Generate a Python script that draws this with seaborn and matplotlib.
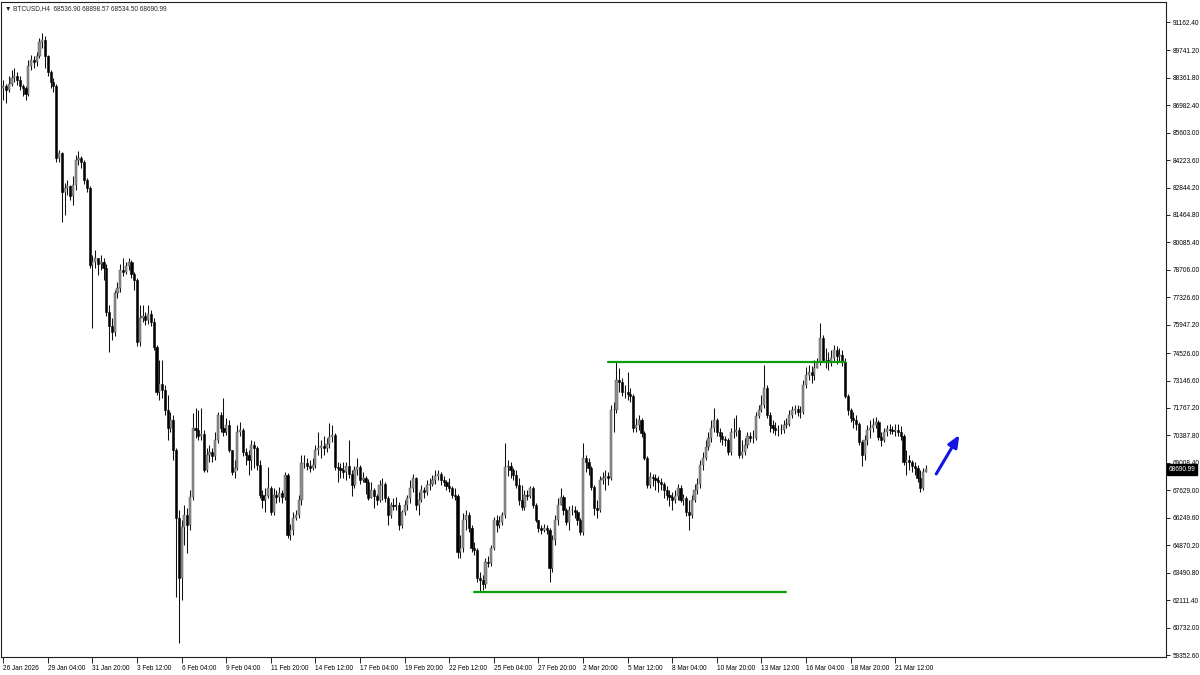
import numpy as np
import pandas as pd
import seaborn as sns
import matplotlib.pyplot as plt

# --- BTCUSD H4 candles (one value per 4h bar) ---
chart_title = "\u25bc BTCUSD,H4  68536.90 68898.57 68534.50 68690.99"
first_open = 87850.0
closes = [
    87946, 87745, 88047, 88348, 88449, 88248, 87946, 87846, 87544, 88951,
    89253, 89152, 89454, 90157, 90258, 89454, 88650, 88147, 87946, 84328,
    84580, 82620, 82821, 82921, 82419, 82972, 84228, 84328, 84127, 83223,
    82821, 78952, 79102, 79303, 79002, 79102, 78801, 76590, 75887, 75585,
    77545, 77796, 78700, 78600, 78901, 79102, 78499, 78198, 75083, 76289,
    76389, 76188, 76490, 76088, 74831, 72570, 72972, 72670, 71665, 70761,
    71163, 69655, 66239, 63224, 65787, 66390, 65887, 67294, 70761, 70660,
    70359, 70459, 68650, 69404, 69555, 69354, 70158, 71414, 70761, 70560,
    70912, 69655, 68550, 68751, 70560, 70660, 69555, 69404, 69153, 69906,
    69756, 68902, 67394, 67143, 67344, 67746, 66540, 67394, 67294, 67495,
    67294, 68399, 65385, 65636, 66239, 66390, 67143, 69002, 69002, 68852,
    68751, 68902, 69655, 69756, 69856, 69756, 69957, 70308, 70409, 68801,
    68751, 68650, 68550, 68852, 68449, 67897, 68650, 68801, 68148, 68248,
    68047, 67244, 67646, 67344, 67143, 67897, 67947, 67244, 66390, 66892,
    66842, 66892, 65887, 66540, 66892, 67244, 67746, 68248, 66892, 67143,
    67646, 67545, 67897, 67947, 68148, 68349, 68449, 68148, 68047, 67847,
    67746, 67394, 67344, 64530, 64731, 66138, 66390, 65736, 64731, 64631,
    63224, 63123, 62922, 64028, 63978, 64731, 66138, 65887, 66038, 66390,
    68801, 68852, 68650, 68399, 67897, 67143, 66791, 67394, 67344, 67746,
    66892, 66138, 65736, 65636, 65736, 65636, 63726, 65133, 66138, 66892,
    67294, 66641, 66038, 66641, 66641, 66540, 66138, 65535, 69253, 69053,
    68751, 67796, 66741, 66641, 68148, 68248, 68349, 68248, 71665, 71665,
    73173, 73073, 72570, 72570, 72469, 72369, 70761, 70912, 71163, 70509,
    69253, 67897, 68299, 68248, 68148, 68047, 67947, 67646, 67394, 67294,
    67143, 67344, 67746, 67143, 67244, 66540, 66390, 67143, 67646, 67947,
    68902, 69253, 69806, 70258, 70761, 71163, 70560, 70359, 70208, 70158,
    69555, 70560, 70560, 70660, 69404, 69555, 69906, 70359, 70258, 70258,
    71364, 71665, 71917, 72771, 71414, 70912, 70761, 70660, 70660, 70660,
    70912, 70962, 71414, 71665, 71716, 71565, 71565, 72922, 73424, 73575,
    73424, 73776, 74078, 75284, 74178, 74178, 74078, 74279, 74680, 74379,
    74429, 74078, 72369, 71665, 71263, 71163, 70962, 70057, 69404, 70158,
    70660, 70761, 70912, 71063, 70308, 70158, 70560, 70710, 70660, 70610,
    70660, 70560, 70359, 69053, 69153, 69053, 68852, 68751, 68248, 67746,
    68536.90, 68690.99,
]
highs = [
    88248, 88047, 88449, 88750, 88851, 88650, 88449, 88047, 87946, 89253,
    89504, 89454, 89655, 90358, 90610, 90459, 89504, 88750, 88348, 88047,
    84730, 84630, 83072, 83223, 82972, 83424, 84479, 84680, 84429, 84228,
    83323, 82921, 79454, 79705, 79303, 79454, 79303, 79002, 76942, 76289,
    77696, 78097, 79002, 79303, 79102, 79303, 79203, 78600, 78298, 76942,
    76942, 76590, 76942, 76690, 76289, 74931, 74178, 74178, 72922, 72419,
    71565, 71414, 69756, 66641, 66138, 66892, 66741, 67646, 71515, 71766,
    71665, 71766, 70660, 69756, 69906, 69756, 70560, 71565, 71565, 72268,
    71263, 71163, 69655, 69153, 70912, 71063, 70761, 69756, 69655, 70158,
    70107, 69856, 69153, 67646, 67746, 68801, 67847, 67746, 67646, 67796,
    67646, 68550, 68500, 65937, 66540, 66641, 67394, 69404, 69404, 69253,
    69153, 69253, 69906, 70560, 70158, 70359, 70258, 71012, 70912, 70509,
    69053, 69002, 69053, 69053, 70158, 68650, 68852, 69253, 68902, 68550,
    68349, 68198, 68047, 67746, 67445, 68148, 68248, 68047, 67344, 67043,
    67244, 67294, 67043, 66641, 67143, 67394, 68148, 68449, 68299, 67545,
    67897, 67796, 68148, 68248, 68399, 68650, 68650, 68550, 68349, 68148,
    68248, 67847, 67746, 67445, 65385, 66490, 66641, 66540, 65887, 65033,
    64731, 63525, 63374, 64229, 64329, 64882, 66289, 66390, 66339, 66540,
    70007, 69153, 69053, 68751, 68650, 68248, 67897, 67646, 67646, 67847,
    67847, 66992, 66138, 65887, 65937, 65887, 65736, 65385, 66390, 67244,
    67746, 67394, 66741, 66842, 66892, 66842, 66641, 66239, 70007, 69404,
    69253, 68852, 67897, 67143, 68349, 68550, 68650, 68550, 71917, 72068,
    74078, 73776, 73274, 72922, 73575, 72771, 72469, 71263, 71414, 71263,
    70610, 69354, 68550, 68449, 68449, 68349, 68248, 68047, 67847, 67646,
    67545, 67646, 67947, 67897, 67445, 67344, 67143, 67394, 67947, 68248,
    69153, 69555, 70158, 70560, 71163, 71766, 71263, 70761, 70560, 70359,
    70258, 70761, 71263, 71414, 70811, 70158, 70258, 70560, 70560, 70660,
    71565, 71917, 72419, 73927, 72922, 71565, 71163, 71063, 70912, 70962,
    71163, 71263, 71665, 71867, 71917, 71917, 71867, 73173, 73826, 73927,
    73877, 74178, 74279, 76037, 75434, 74781, 74580, 74680, 74931, 74881,
    74781, 74680, 74279, 72469, 71766, 71565, 71414, 71063, 70158, 70409,
    70912, 71163, 71263, 71314, 71163, 70560, 70761, 70912, 70962, 70861,
    70962, 70962, 70861, 70459, 69655, 69404, 69153, 69053, 68902, 68650,
    68751, 68898.57,
]
lows = [
    87243, 87092, 87645, 87946, 88147, 87997, 87745, 87444, 87243, 87444,
    88750, 88851, 88951, 89353, 89856, 88851, 88449, 87846, 87645, 84127,
    84127, 81113, 81464, 82469, 82218, 81967, 82720, 83977, 83826, 83022,
    82620, 78801, 75786, 78801, 78449, 78700, 78198, 76389, 74580, 75183,
    75384, 77294, 77595, 78399, 78499, 78700, 78298, 77696, 74881, 74881,
    76088, 75937, 75987, 75887, 74680, 72419, 72168, 72268, 71414, 70158,
    70560, 69153, 62268, 59957, 62118, 64882, 64480, 65636, 67143, 70258,
    70158, 70158, 68550, 68550, 69053, 69053, 69153, 70007, 70560, 70359,
    70409, 69555, 68399, 68248, 68650, 70359, 69354, 68902, 68399, 68650,
    68751, 68650, 67244, 66741, 66540, 67244, 66390, 66390, 66992, 67043,
    66992, 67143, 65234, 65133, 65385, 66138, 66239, 66892, 68751, 68650,
    68550, 68650, 68751, 69404, 69253, 69404, 69555, 69756, 70057, 68650,
    68047, 68248, 68248, 68148, 68248, 67344, 67746, 68399, 67947, 68047,
    67445, 67143, 67244, 66741, 66892, 67043, 67143, 67043, 65887, 66239,
    66641, 66641, 65636, 65736, 66390, 66641, 66992, 67545, 66641, 66390,
    67043, 67244, 67394, 67646, 67847, 67947, 68148, 67897, 67847, 67646,
    67545, 67244, 67143, 64229, 64229, 64530, 65636, 65535, 64530, 64379,
    63023, 62520, 62620, 62721, 63776, 63827, 64631, 65535, 65736, 65887,
    66239, 68349, 68248, 68148, 67746, 66892, 66641, 66641, 67143, 67244,
    66741, 66038, 65535, 65435, 65535, 65435, 63023, 63525, 64882, 65887,
    66892, 66390, 65887, 65636, 66390, 66239, 65887, 65385, 65385, 68550,
    68399, 67646, 66390, 66239, 66540, 67947, 67646, 67897, 68148, 70560,
    71515, 72570, 72369, 72268, 72168, 72068, 70560, 70560, 70660, 70308,
    69153, 67746, 67746, 67847, 67646, 67545, 67646, 67244, 67143, 66842,
    66641, 66992, 67143, 67043, 66892, 66339, 65636, 66239, 67043, 67445,
    67746, 68650, 69153, 69655, 70057, 70560, 70359, 70057, 69906, 69856,
    69404, 69404, 70258, 70359, 69253, 69253, 69404, 69756, 70057, 70007,
    70158, 71263, 71565, 71766, 71263, 70560, 70509, 70409, 70359, 70459,
    70509, 70761, 70861, 71263, 71464, 71364, 71263, 71464, 72771, 73173,
    73022, 73173, 73776, 73927, 74078, 73776, 73675, 73877, 74078, 73977,
    74078, 73877, 72268, 71414, 71063, 70761, 70660, 69906, 68852, 69153,
    69906, 70258, 70560, 70761, 70158, 69856, 70057, 70359, 70459, 70459,
    70359, 70359, 70158, 68902, 68399, 68650, 68550, 68399, 68047, 67545,
    67646, 68534.50,
]
last_price = 68690.99

date_labels = ['26 Jan 2026', '29 Jan 04:00', '31 Jan 20:00', '3 Feb 12:00',
               '6 Feb 04:00', '9 Feb 04:00', '11 Feb 20:00', '14 Feb 12:00',
               '17 Feb 04:00', '19 Feb 20:00', '22 Feb 12:00', '25 Feb 04:00',
               '27 Feb 20:00', '2 Mar 20:00', '5 Mar 12:00', '8 Mar 04:00',
               '10 Mar 20:00', '13 Mar 12:00', '16 Mar 04:00', '18 Mar 20:00',
               '21 Mar 12:00']
bars_per_label = 16

price_ticks = [91162.40, 89741.20, 88361.80, 86982.40, 85603.00, 84223.60,
               82844.20, 81464.80, 80085.40, 78706.00, 77326.60, 75947.20,
               74526.00, 73146.60, 71767.20, 70387.80, 69008.40, 67629.00,
               66249.60, 64870.20, 63490.80, 62111.40, 60732.00, 59352.60]

# horizontal levels drawn on the chart (price, first bar, last bar)
level_price = [74060, 62520]
level_start = [217, 169]
level_end = [302, 281]

# blue arrow (bar, price)
arrow_from = (334.7, 68450)
arrow_to = (343.0, 70410)

# --- style ---
sns.set_style('white')
plt.rcParams['font.family'] = ['Liberation Sans', 'DejaVu Sans']
fsize = 4.7

c = np.array(closes, dtype=float)
h = np.array(highs, dtype=float)
l = np.array(lows, dtype=float)
o = np.r_[first_open, c[:-1]]
idx = np.arange(len(c))
up = c >= o

fig = plt.figure(figsize=(12, 6.75), dpi=100)
ax = fig.add_axes([0.001, 0.0267, 0.9708, 0.9703])

# wicks + bodies (bull = grey, bear = black, like the MT4 screenshot)
ax.vlines(idx, l, h, color='#111111', lw=0.75, zorder=2)
ax.bar(idx[up], (c - o)[up], bottom=o[up], width=0.78, color='#8e8e8e',
       edgecolor='#5a5a5a', linewidth=0.35, zorder=3)
ax.bar(idx[~up], (o - c)[~up], bottom=c[~up], width=0.78, color='black',
       edgecolor='black', linewidth=0.4, zorder=3)

# support / resistance lines
levels = pd.DataFrame({
    'bar': level_start + level_end,
    'price': level_price + level_price,
    'line': [0, 1, 0, 1],
})
sns.lineplot(data=levels, x='bar', y='price', units='line', estimator=None,
             color='#0c9c0c', lw=1.6, ax=ax, legend=False, zorder=4)

ax.annotate('', xy=arrow_to, xytext=arrow_from,
            arrowprops=dict(arrowstyle='-|>,head_length=0.7,head_width=0.3',
                            color='#1414e6', lw=2.2, shrinkA=0, shrinkB=0))

ax.set_xlim(-0.72, 417.2)
ax.set_ylim(59254, 92167)
ax.set_xlabel('')
ax.set_ylabel('')

ax.yaxis.tick_right()
ax.set_yticks(price_ticks)
ax.set_yticklabels([f'{p:.2f}' for p in price_ticks])
ax.set_xticks(np.arange(len(date_labels)) * bars_per_label)
ax.set_xticklabels(date_labels, ha='left')
ax.tick_params(axis='y', left=False, right=True, labelleft=False, labelright=True,
               direction='out', length=3, width=0.6, pad=2, labelsize=fsize,
               colors='black')
ax.tick_params(axis='x', bottom=True, direction='out', length=4, width=0.6,
               pad=2, labelsize=fsize, colors='black')
for s in ax.spines.values():
    s.set_color('#202020')
    s.set_linewidth(0.8)

ax.text(0.003, 0.995, chart_title, transform=ax.transAxes, ha='left', va='top',
        fontsize=fsize)
ax.text(1.002, last_price, f'{last_price:.2f}', transform=ax.get_yaxis_transform(),
        ha='left', va='center', fontsize=fsize, color='white', zorder=6,
        clip_on=False, bbox=dict(boxstyle='square,pad=0.3', fc='black', ec='black'))

fig.savefig('out.png', dpi=100)
